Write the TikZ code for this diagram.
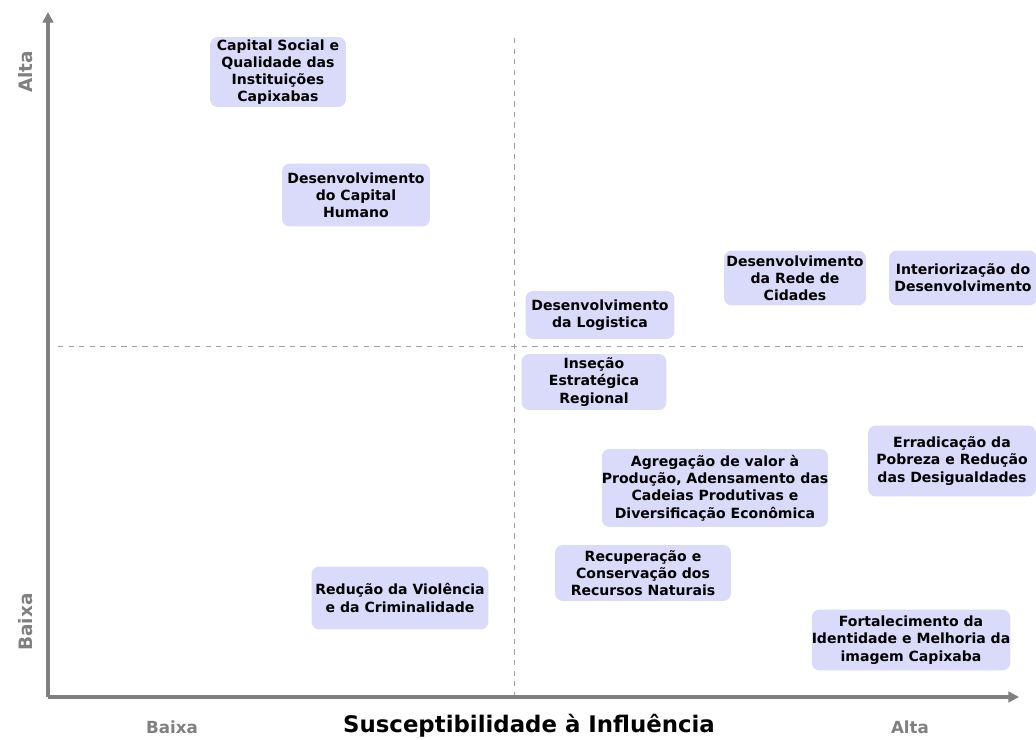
\documentclass[tikz,border=0pt]{standalone}
\usepackage{fontspec}
\setmainfont{DejaVu Sans}
\usetikzlibrary{arrows.meta}
\definecolor{boxfill}{RGB}{218,218,250}
\definecolor{axisgray}{RGB}{128,128,128}
\definecolor{dashgray}{RGB}{160,160,160}
\tikzset{
  quadbox/.style={rounded corners=4.5pt, fill=boxfill, align=center, inner sep=0pt,
    font=\fontsize{8}{9.8}\selectfont\bfseries},
  axislabel/.style={text=axisgray, font=\fontsize{9.5}{11}\selectfont\bfseries},
}
\begin{document}
\begin{tikzpicture}[x=0.02cm,y=-0.02cm]
\useasboundingbox (0,0) rectangle (1036,740);
% quadrant lines
\draw[dashgray, dashed, thin] (514,38) -- (514,696);
\draw[dashgray, dashed, thin] (58,346) -- (1025,346);
% axes
\coordinate (o) at (48,697);
\coordinate (ytop) at (48,12);
\coordinate (xend) at (1019,697);
\draw[axisgray, line width=1.8pt, -{Triangle[length=6pt,width=6pt]}] (o) -- (ytop);
\draw[axisgray, line width=1.8pt, -{Triangle[length=6pt,width=6pt]}] (o) -- (xend);
\node[axislabel, rotate=90, font=\fontsize{10.5}{12}\selectfont\bfseries] (yhigh) at (26,72) {Alta};
\node[axislabel, rotate=90, font=\fontsize{10.5}{12}\selectfont\bfseries] (ylow) at (26,622) {Baixa};
\node[axislabel] (xlow) at (172,727) {Baixa};
\node[axislabel] (xhigh) at (910,727) {Alta};
\node[font=\fontsize{13}{15}\selectfont\bfseries] (xtitle) at (529,726) {Susceptibilidade à Influência};
% boxes, upper left
\node[quadbox, minimum width=2.72cm, minimum height=1.40cm] (capsocial) at (278,72)
  {Capital Social e\\Qualidade das\\Instituições\\Capixabas};
\node[quadbox, minimum width=2.96cm, minimum height=1.26cm] (caphumano) at (356,195)
  {Desenvolvimento\\do Capital\\Humano};
% boxes, upper right
\node[quadbox, minimum width=2.98cm, minimum height=0.96cm] (logistica) at (600,315)
  {Desenvolvimento\\da Logistica};
\node[quadbox, minimum width=2.84cm, minimum height=1.10cm] (cidades) at (795,278)
  {Desenvolvimento\\da Rede de\\Cidades};
\node[quadbox, minimum width=2.96cm, minimum height=1.10cm] (interior) at (963,278)
  {Interiorização do\\Desenvolvimento};
% boxes, lower right
\node[quadbox, minimum width=2.90cm, minimum height=1.12cm] (insecao) at (594,382)
  {Inseção\\Estratégica\\Regional};
\node[quadbox, minimum width=4.50cm, minimum height=1.56cm] (agregacao) at (715,488)
  {Agregação de valor à\\Produção, Adensamento das\\Cadeias Produtivas e\\Diversificação Econômica};
\node[quadbox, minimum width=3.36cm, minimum height=1.42cm] (pobreza) at (952,461)
  {Erradicação da\\Pobreza e Redução\\das Desigualdades};
\node[quadbox, minimum width=3.52cm, minimum height=1.12cm] (recursos) at (643,573)
  {Recuperação e\\Conservação dos\\Recursos Naturais};
\node[quadbox, minimum width=3.96cm, minimum height=1.22cm] (identidade) at (911,640)
  {Fortalecimento da\\Identidade e Melhoria da\\imagem Capixaba};
% box, lower left
\node[quadbox, minimum width=3.54cm, minimum height=1.26cm] (violencia) at (400,598)
  {Redução da Violência\\e da Criminalidade};
\end{tikzpicture}
\end{document}
